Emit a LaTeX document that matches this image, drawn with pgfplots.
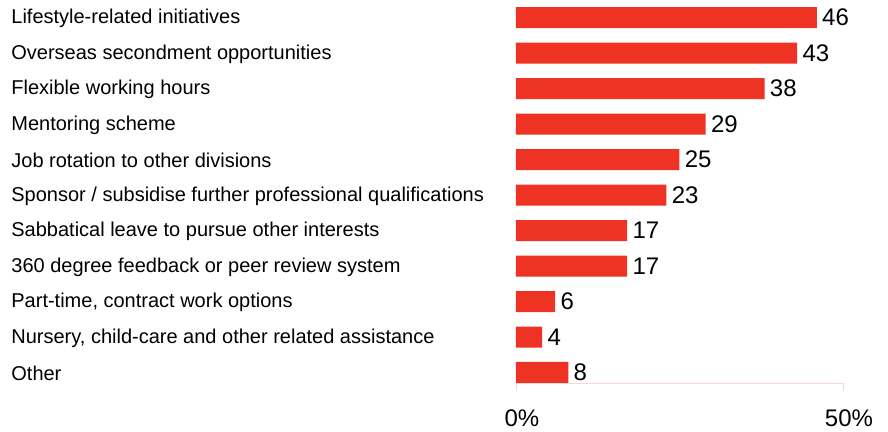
\documentclass[border=0pt]{standalone}
\usepackage{fontspec}
\setmainfont{Liberation Sans}
\usepackage{pgfplots}
\pgfplotsset{compat=1.18}
\definecolor{barred}{RGB}{238,51,36}
\definecolor{axpink}{RGB}{250,215,212}
\begin{document}
\begin{tikzpicture}
\begin{axis}[
    xbar, bar width=10.5pt,
    scale only axis, width=163.5pt, height=191.5pt,
    xmin=0, xmax=50, ymin=-0.296, ymax=10.5,
    axis x line*=bottom, axis y line*=left,
    x axis line style={draw=axpink},
    y axis line style={draw=none},
    xtick={0,50}, xticklabels={0\%,50\%},
    x tick style={draw=axpink}, tick align=outside, major tick length=4pt,
    xticklabel style={anchor=base, yshift=-18pt, xshift=3pt, font=\fontsize{12}{14}\selectfont},
    ytick={0,...,10}, y tick style={draw=none},
    yticklabels={Other,
        {Nursery, child-care and other related assistance},
        {Part-time, contract work options},
        360 degree feedback or peer review system,
        Sabbatical leave to pursue other interests,
        Sponsor / subsidise further professional qualifications,
        Job rotation to other divisions,
        Mentoring scheme,
        Flexible working hours,
        Overseas secondment opportunities,
        Lifestyle-related initiatives},
    yticklabel style={anchor=west, inner sep=0pt, xshift=-248.5pt, yshift=-0.5pt},
    /pgf/number format/assume math mode=true,
    point meta=x,
    nodes near coords,
    nodes near coords style={anchor=west, inner sep=2.5pt, font=\fontsize{12}{14}\selectfont},
    clip=false,
]
\addplot[fill=barred, draw=none] coordinates {
    (8,0) (4,1) (6,2) (17,3) (17,4) (23,5) (25,6) (29,7) (38,8) (43,9) (46,10)
};
\end{axis}
\pgfresetboundingbox
\path[use as bounding box] ([xshift=-258pt,yshift=-24.5pt]current axis.south west) rectangle ([xshift=22.5pt]current axis.north east);
\end{tikzpicture}
\end{document}
